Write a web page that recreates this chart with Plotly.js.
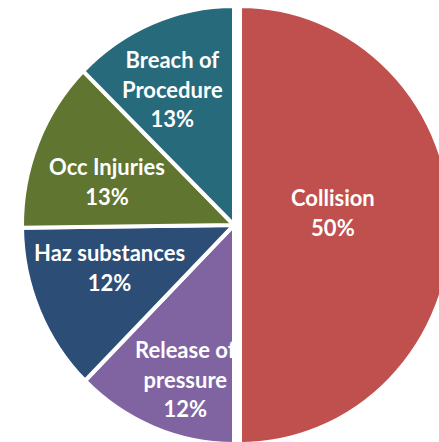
<!DOCTYPE html>
<html>
<head>
<meta charset="utf-8">
<script src="https://cdn.plot.ly/plotly-3.0.1.min.js"></script>
<style>
html, body { margin:0; padding:0; overflow:hidden; background:#fff; }
#wrap { width:439px; height:442px; overflow:hidden; position:relative; }
#chart { position:absolute; left:0; top:0; transform: scaleY(1.033); transform-origin: 0 225px; }
</style>
</head>
<body>
<div id="wrap"><div id="chart"></div></div>
<script>
// Data
const categories = ["Collision", "Release of<br>pressure", "Haz substances", "Occ Injuries", "Breach of<br>Procedure"];
const values = [50, 12.4, 12.4, 12.6, 12.6];

// Styles
const colors = ["#C0504D", "#8064A2", "#2C4D75", "#5F7530", "#276A7C"];
const pulls = [0.0283, 0, 0, 0, 0];
// label placement: fraction of radius and angular nudge (deg) from slice mid-angle
const labelRadius = [0.442, 0.74, 0.619, 0.632, 0.685];
const labelNudge = [-7.1, -4.3, 4.9, -3.9, -2.4];

const W = 462, H = 450;
const M = { l: 16, r: 10, t: 7, b: 7 };
const pw = W - M.l - M.r, ph = H - M.t - M.b;
const maxPull = Math.max(...pulls);
const R = Math.min(pw, ph) / (2 + 2 * maxPull);
const cx = M.l + pw / 2, cy = M.t + ph / 2;

const total = values.reduce((a, b) => a + b, 0);
const annotations = [];
let cum = 0;
values.forEach((v, i) => {
  const mid = (cum + v / 2) / total * 360 + labelNudge[i];
  cum += v;
  const a = mid * Math.PI / 180;
  const midRaw = ((cum - v / 2) / total) * 2 * Math.PI;
  const ox = cx + pulls[i] * R * Math.sin(midRaw);
  const oy = cy - pulls[i] * R * Math.cos(midRaw);
  const px = ox + labelRadius[i] * R * Math.sin(a);
  const py = oy - labelRadius[i] * R * Math.cos(a);
  annotations.push({
    xref: "paper", yref: "paper",
    x: (px - M.l) / pw, y: 1 - (py - M.t) / ph,
    xanchor: "center", yanchor: "middle",
    showarrow: false, align: "center",
    text: categories[i] + "<br>" + Math.round(v / total * 100) + "%",
    font: { family: "Lato, 'Open Sans', sans-serif", size: 22, color: "#ffffff", weight: "bold" }
  });
});

Plotly.newPlot("chart", [{
  type: "pie",
  labels: categories,
  values: values,
  sort: false,
  direction: "clockwise",
  rotation: 0,
  pull: pulls,
  marker: { colors: colors, line: { color: "#ffffff", width: 4 } },
  textinfo: "none",
  hoverinfo: "none"
}], {
  width: W, height: H,
  margin: M,
  showlegend: false,
  paper_bgcolor: "#ffffff",
  annotations: annotations
}, { displayModeBar: false, staticPlot: true });
</script>
</body>
</html>
